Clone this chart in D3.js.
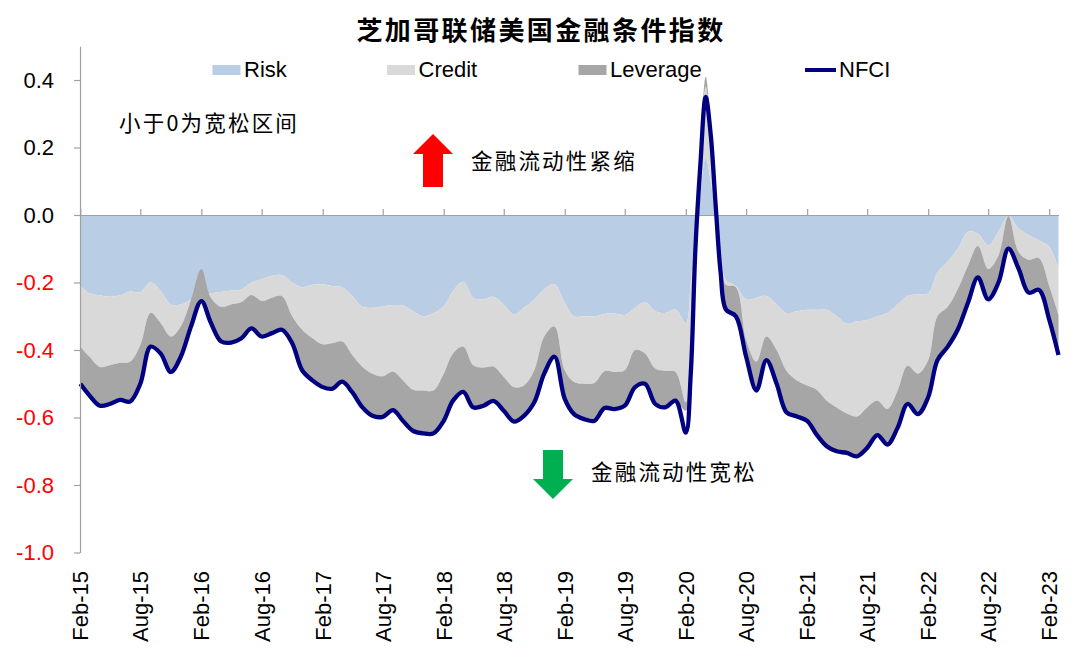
<!DOCTYPE html>
<html><head><meta charset="utf-8">
<script src="https://cdn.jsdelivr.net/npm/d3@7"></script>
<style>body{margin:0;background:#fff}</style>
</head><body><svg id="c" width="1080" height="663"></svg>
<script>
// ---- data ----
const dates = [
"2015-02-01","2015-03-01","2015-04-01","2015-05-01","2015-06-01","2015-07-01","2015-08-01","2015-09-01","2015-10-01","2015-11-01","2015-12-01",
"2016-01-01","2016-02-01","2016-03-01","2016-04-01","2016-05-01","2016-06-01","2016-07-01","2016-08-01","2016-09-01","2016-10-01","2016-11-01","2016-12-01",
"2017-01-01","2017-02-01","2017-03-01","2017-04-01","2017-05-01","2017-06-01","2017-07-01","2017-08-01","2017-09-01","2017-10-01","2017-11-01","2017-12-01",
"2018-01-01","2018-02-01","2018-03-01","2018-04-01","2018-05-01","2018-06-01","2018-07-01","2018-08-01","2018-09-01","2018-10-01","2018-11-01","2018-12-01",
"2019-01-01","2019-02-01","2019-03-01","2019-04-01","2019-05-01","2019-06-01","2019-07-01","2019-08-01","2019-09-01","2019-10-01","2019-11-01","2019-12-01",
"2020-01-01","2020-02-01",
"2020-02-16","2020-03-01","2020-03-16","2020-04-01","2020-04-16","2020-05-01","2020-05-16",
"2020-06-01","2020-07-01","2020-08-01","2020-09-01","2020-10-01","2020-11-01","2020-12-01",
"2021-01-01","2021-02-01","2021-03-01","2021-04-01","2021-05-01","2021-06-01","2021-07-01","2021-08-01","2021-09-01","2021-10-01","2021-11-01","2021-12-01",
"2022-01-01","2022-02-01","2022-03-01","2022-04-01","2022-05-01","2022-06-01","2022-07-01","2022-08-01","2022-09-01","2022-10-01","2022-11-01","2022-12-01",
"2023-01-01","2023-02-01","2023-03-01"];

const risk = [
-0.21,-0.232,-0.238,-0.242,-0.238,-0.227,-0.228,-0.20,-0.225,-0.265,-0.265,
-0.25,-0.24,-0.232,-0.228,-0.224,-0.22,-0.20,-0.19,-0.18,-0.178,-0.20,-0.214,
-0.207,-0.205,-0.21,-0.214,-0.24,-0.272,-0.275,-0.27,-0.267,-0.268,-0.285,-0.30,
-0.29,-0.27,-0.225,-0.198,-0.245,-0.25,-0.242,-0.265,-0.295,-0.275,-0.25,-0.22,
-0.205,-0.26,-0.30,-0.30,-0.30,-0.293,-0.292,-0.296,-0.275,-0.258,-0.285,-0.29,
-0.28,-0.32,
-0.20,-0.03,0.07,0.17,0.10,0.0,-0.12,
-0.193,-0.21,-0.25,-0.245,-0.24,-0.265,-0.29,
-0.285,-0.281,-0.281,-0.281,-0.30,-0.322,-0.315,-0.311,-0.30,-0.29,-0.265,-0.24,
-0.235,-0.232,-0.17,-0.138,-0.10,-0.05,-0.055,-0.09,-0.05,-0.003,-0.04,-0.059,
-0.075,-0.094,-0.158];

const credit = [
-0.18,-0.188,-0.212,-0.203,-0.20,-0.208,-0.157,-0.09,-0.095,-0.095,-0.065,
0.0,0.08,-0.013,-0.044,-0.041,-0.038,-0.037,-0.065,-0.065,-0.062,-0.10,-0.126,
-0.158,-0.178,-0.17,-0.161,-0.175,-0.178,-0.195,-0.208,-0.197,-0.222,-0.233,-0.22,
-0.23,-0.20,-0.185,-0.192,-0.20,-0.202,-0.207,-0.215,-0.215,-0.23,-0.21,-0.14,
-0.125,-0.20,-0.195,-0.20,-0.198,-0.17,-0.173,-0.164,-0.125,-0.152,-0.17,-0.172,
-0.185,-0.235,
-0.16,-0.03,0.11,0.21,0.14,0.03,-0.02,
-0.014,-0.004,-0.12,-0.19,-0.12,-0.135,-0.172,
-0.205,-0.224,-0.236,-0.269,-0.27,-0.266,-0.282,-0.259,-0.25,-0.285,-0.255,-0.207,
-0.235,-0.198,-0.13,-0.134,-0.12,-0.10,-0.037,-0.07,-0.07,0.0,-0.07,-0.074,
-0.053,-0.116,-0.138];

const leverage = [
-0.11,-0.115,-0.115,-0.115,-0.11,-0.118,-0.115,-0.10,-0.09,-0.105,-0.09,
-0.08,-0.095,-0.075,-0.103,-0.113,-0.107,-0.099,-0.105,-0.105,-0.10,-0.08,-0.12,
-0.125,-0.127,-0.135,-0.119,-0.11,-0.12,-0.125,-0.12,-0.114,-0.12,-0.122,-0.127,
-0.127,-0.14,-0.14,-0.134,-0.125,-0.113,-0.102,-0.10,-0.102,-0.09,-0.095,-0.11,
-0.09,-0.085,-0.095,-0.105,-0.112,-0.109,-0.11,-0.105,-0.11,-0.09,-0.105,-0.108,
-0.085,-0.025,
-0.08,-0.03,0.02,0.03,0.03,0.01,-0.03,
-0.073,-0.086,-0.05,-0.085,-0.07,-0.10,-0.123,
-0.107,-0.105,-0.133,-0.135,-0.13,-0.117,-0.118,-0.12,-0.102,-0.105,-0.11,-0.113,
-0.12,-0.11,-0.13,-0.118,-0.12,-0.11,-0.093,-0.09,-0.08,-0.097,-0.05,-0.097,
-0.094,-0.10,-0.119];

const nfci = [
-0.50,-0.535,-0.565,-0.56,-0.548,-0.553,-0.50,-0.39,-0.41,-0.465,-0.42,
-0.33,-0.255,-0.32,-0.375,-0.378,-0.365,-0.336,-0.36,-0.35,-0.34,-0.38,-0.46,
-0.49,-0.51,-0.515,-0.494,-0.525,-0.57,-0.595,-0.598,-0.578,-0.61,-0.64,-0.647,
-0.647,-0.61,-0.55,-0.524,-0.57,-0.565,-0.551,-0.58,-0.612,-0.595,-0.555,-0.47,
-0.42,-0.545,-0.59,-0.605,-0.61,-0.572,-0.575,-0.565,-0.51,-0.50,-0.56,-0.57,
-0.55,-0.645,
-0.47,-0.10,0.15,0.35,0.24,0.03,-0.17,
-0.28,-0.30,-0.42,-0.52,-0.43,-0.50,-0.585,
-0.597,-0.61,-0.65,-0.685,-0.70,-0.705,-0.715,-0.69,-0.652,-0.68,-0.63,-0.56,
-0.59,-0.54,-0.43,-0.39,-0.34,-0.26,-0.185,-0.25,-0.20,-0.10,-0.16,-0.23,
-0.222,-0.31,-0.415];

const seriesNames = ["Risk","Credit","Leverage"];
const seriesColors = ["#B9CDE5","#D9D9D9","#A6A6A6"];
const lineName = "NFCI";
const lineColor = "#000080";
const yTicks = [-1.0,-0.8,-0.6,-0.4,-0.2,0.0,0.2,0.4];
const xTickDates = ["2015-02-01","2015-08-01","2016-02-01","2016-08-01","2017-02-01","2017-08-01","2018-02-01","2018-08-01","2019-02-01","2019-08-01","2020-02-01","2020-08-01","2021-02-01","2021-08-01","2022-02-01","2022-08-01","2023-02-01"];
const title = "芝加哥联储美国金融条件指数";
const noteLoose = "小于0为宽松区间";
const noteUp = "金融流动性紧缩";
const noteDown = "金融流动性宽松";

// ---- build ----
const parse = d3.timeParse("%Y-%m-%d");
const rows = dates.map((d,i)=>({date:parse(d), Risk:risk[i], Credit:credit[i], Leverage:leverage[i], NFCI:nfci[i]}));

const svg = d3.select("#c");
const LAT = "'Liberation Sans', Arial, sans-serif";
const CJK = "'Noto Sans CJK SC', 'Noto Sans', sans-serif";

const x = d3.scaleTime().domain([parse("2015-02-01"), parse("2023-03-01")]).range([80.3, 1058.5]);
const y = d3.scaleLinear().domain([-1, 0.5]).range([552.5, 46.25]);

const curve = d3.curveCatmullRom.alpha(0.5);
const stack = d3.stack().keys(seriesNames).offset(d3.stackOffsetNone);
const stacked = stack(rows);

const area = d3.area().curve(curve)
  .x(d=>x(d.data.date)).y0(d=>y(d[0])).y1(d=>y(d[1]));

svg.append("g").selectAll("path").data(stacked).join("path")
  .attr("d", area).attr("fill",(d,i)=>seriesColors[i]);

// zero axis with upward ticks
const xAxis = d3.axisTop(x).tickValues(xTickDates.map(parse)).tickSize(6).tickSizeOuter(0).tickFormat("");
const gx = svg.append("g").attr("transform",`translate(0,${y(0)})`).call(xAxis);
gx.selectAll("path,line").attr("stroke","#A0A0A0").attr("stroke-width",1.2);

// x tick labels at the bottom
const fmt = d3.timeFormat("%b-%y");
svg.append("g").selectAll("text").data(xTickDates.map(parse)).join("text")
  .attr("transform",d=>`translate(${x(d)},571) rotate(-90)`)
  .attr("text-anchor","end").attr("dy","0.36em")
  .attr("font-family",LAT).attr("font-size",22).attr("fill","#000")
  .text(d=>fmt(d));

// NFCI line
const line = d3.line().curve(curve).x(d=>x(d.date)).y(d=>y(d.NFCI));
svg.append("path").datum(rows).attr("d",line).attr("fill","none")
  .attr("stroke",lineColor).attr("stroke-width",4.3).attr("stroke-linejoin","round");

// y axis
const yAxis = d3.axisLeft(y).tickValues(yTicks).tickSize(6).tickSizeOuter(0).tickFormat(d=>d.toFixed(1));
const gy = svg.append("g").attr("transform","translate(80,0)").call(yAxis);
gy.selectAll("path,line").attr("stroke","#A0A0A0").attr("stroke-width",1.2);
gy.selectAll("text").attr("x",-26).attr("font-family",LAT).attr("font-size",22)
  .attr("fill",d=>d<0?"#FF0000":"#000");

// title
svg.append("text").attr("x",541).attr("y",40).attr("text-anchor","middle")
  .attr("font-family",CJK).attr("font-weight","bold").attr("font-size",26)
  .attr("letter-spacing","2.4px").text(title);

// legend
const leg = svg.append("g").attr("font-family",LAT).attr("font-size",22);
const legX = [212.5, 387, 578.5];
seriesNames.forEach((n,i)=>{
  leg.append("rect").attr("x",legX[i]).attr("y",65).attr("width",28).attr("height",10).attr("fill",seriesColors[i]);
  leg.append("text").attr("x",legX[i]+31.5).attr("y",77).text(n);
});
leg.append("line").attr("x1",805).attr("x2",836).attr("y1",70).attr("y2",70).attr("stroke",lineColor).attr("stroke-width",4);
leg.append("text").attr("x",839).attr("y",77).text(lineName);

// annotations
const ann = svg.append("g").attr("font-family",CJK).attr("font-size",21.5).attr("letter-spacing","2.2px").attr("fill","#000");
ann.append("text").attr("x",119).attr("y",131).text(noteLoose);
ann.append("text").attr("x",471).attr("y",169).text(noteUp);
ann.append("text").attr("x",591).attr("y",479.5).text(noteDown);

// arrows
svg.append("path").attr("d","M433,134 L453,154 L443,154 L443,187 L423,187 L423,154 L413,154 Z").attr("fill","#FF0000");
svg.append("path").attr("d","M543,450 L563,450 L563,479 L573,479 L553,499 L533,479 L543,479 Z").attr("fill","#00B050");
</script></body></html>
